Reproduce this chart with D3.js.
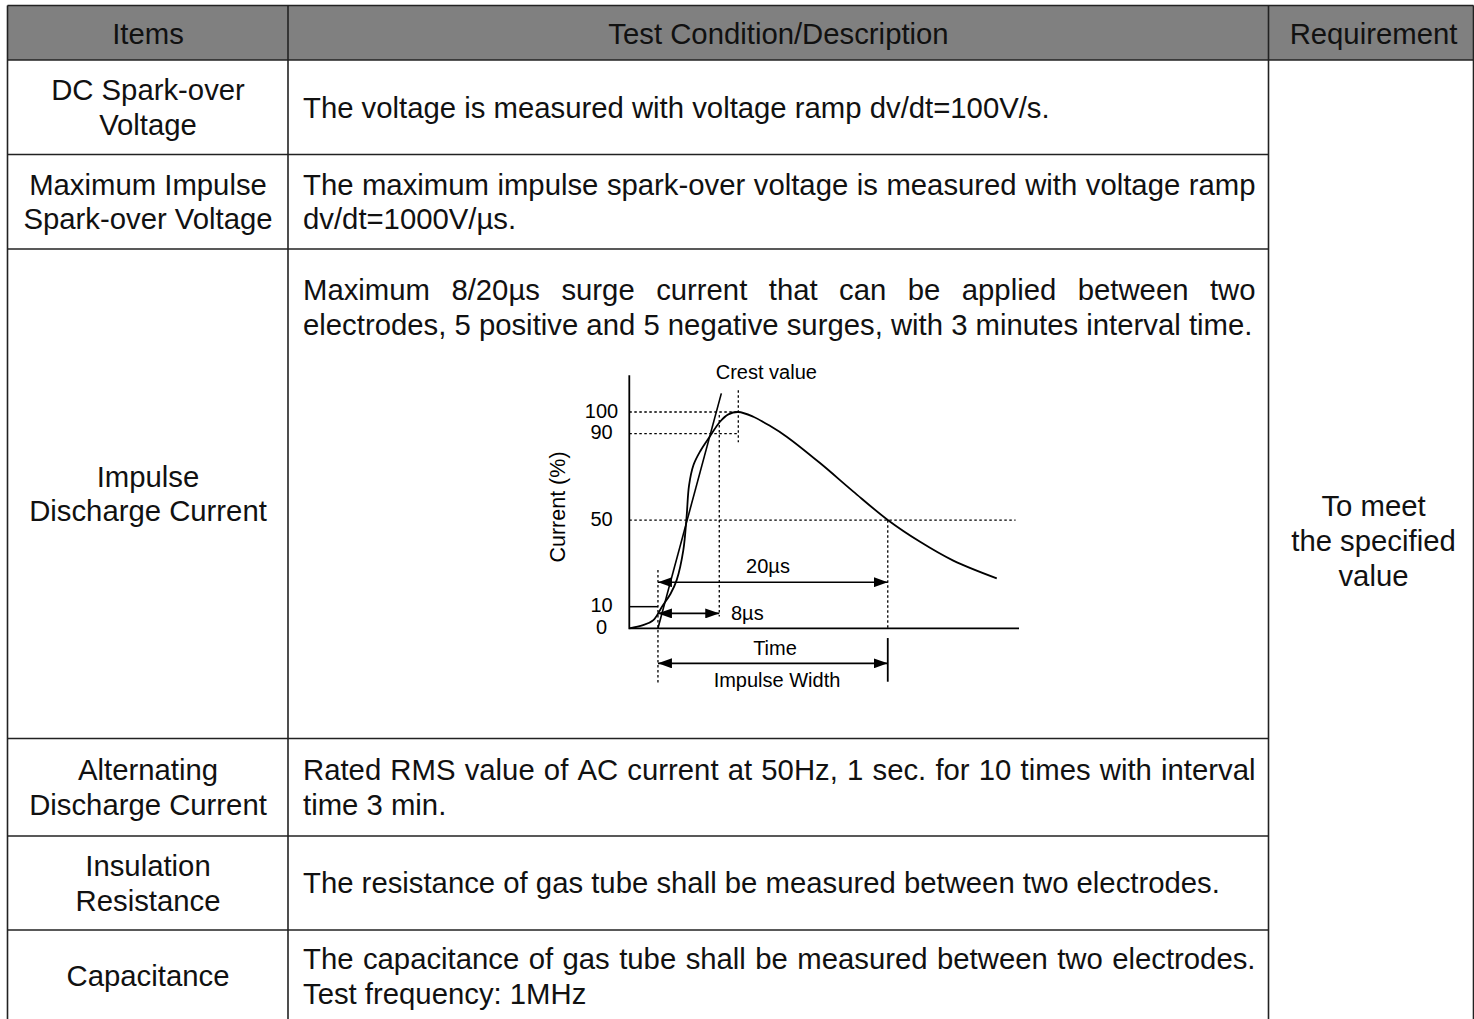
<!DOCTYPE html>
<html>
<head>
<meta charset="utf-8">
<script src="https://cdn.jsdelivr.net/npm/d3@7"></script>
<style>
  body { margin: 0; background: #fff; }
  svg { display: block; font-family: "Liberation Sans", Arial, sans-serif; }
</style>
</head>
<body>
<div id="chart"></div>
<script>
// ----- table content -----
const headers = ["Items", "Test Condition/Description", "Requirement"];

const items = [
  ["DC Spark-over", "Voltage"],
  ["Maximum Impulse", "Spark-over Voltage"],
  ["Impulse", "Discharge Current"],
  ["Alternating", "Discharge Current"],
  ["Insulation", "Resistance"],
  ["Capacitance"]
];

// each line: [text, justified?]
const descriptions = [
  [["The voltage is measured with voltage ramp dv/dt=100V/s.", false]],
  [["The maximum impulse spark-over voltage is measured with voltage ramp", true],
   ["dv/dt=1000V/µs.", false]],
  [["Maximum 8/20µs surge current that can be applied between two", true],
   ["electrodes, 5 positive and 5 negative surges, with 3 minutes interval time.", false]],
  [["Rated RMS value of AC current at 50Hz, 1 sec. for 10 times with interval", true],
   ["time 3 min.", false]],
  [["The resistance of gas tube shall be measured between two electrodes.", false]],
  [["The capacitance of gas tube shall be measured between two electrodes.", true],
   ["Test frequency: 1MHz", false]]
];

const requirement = ["To meet", "the specified", "value"];

// ----- 8/20 waveform (time in diagram units, current in %) -----
const waveTime    = [0, 1.2, 2.1, 2.85, 3.6, 4.14, 4.71, 5.0, 5.21, 5.6, 6.2, 7.04, 7.91, 8.64, 9.51, 10.82, 12.3, 13.73, 16.64, 19.55, 22.55, 25.37, 28.27, 32.06];
const waveCurrent = [0, 1.5, 3.8, 10, 16, 22.4, 36, 51.6, 66, 75.5, 82, 88.8, 95.5, 98.9, 100, 97.8, 93.5, 88.6, 76.4, 63.2, 50.1, 40.0, 31.3, 23.1];

// straight front line through the 10% and 90% points
const frontTime = [2.5, 8.03];
const frontCurrent = [0, 108.6];

const levelTicks = [100, 90, 50, 10, 0];

// key times: virtual origin, 90% point, crest, 50% on tail
const tOrigin = 2.5, t90 = 7.85, tCrest = 9.51, tHalf = 22.55;

// ----- layout -----
const width = 1474, height = 1019;
const colX = [7.5, 288, 1268.5, 1473.5];
const rowY = [5.5, 60, 154.5, 249, 738.5, 836, 930, 1022];
const lineH = 34.5;
const fs = 29.3;

const svg = d3.select("#chart").append("svg")
  .attr("width", width)
  .attr("height", height);

// header background
svg.append("rect")
  .attr("x", colX[0]).attr("y", rowY[0])
  .attr("width", colX[3] - colX[0]).attr("height", rowY[1] - rowY[0])
  .attr("fill", "#808080");

const grid = svg.append("g").attr("stroke", "#222").attr("stroke-width", 1.6);

// horizontal rules
rowY.forEach((y, i) => {
  const full = i <= 1;
  grid.append("line")
    .attr("x1", colX[0]).attr("x2", full ? colX[3] : colX[2])
    .attr("y1", y).attr("y2", y);
});
// vertical rules
colX.forEach(x => {
  grid.append("line").attr("x1", x).attr("x2", x).attr("y1", rowY[0]).attr("y2", rowY[7]);
});

const txt = svg.append("g").attr("font-size", fs).attr("fill", "#111");
const colCenter = [148, 778.5, 1373.5];

// header text
headers.forEach((h, i) => {
  txt.append("text")
    .attr("x", colCenter[i])
    .attr("y", (rowY[0] + rowY[1]) / 2 + 1)
    .attr("dy", "0.35em")
    .attr("text-anchor", "middle")
    .text(h);
});

// item column
items.forEach((lines, r) => {
  const cy = (rowY[r + 1] + rowY[r + 2]) / 2;
  lines.forEach((l, k) => {
    txt.append("text")
      .attr("x", colCenter[0])
      .attr("y", cy + (k - (lines.length - 1) / 2) * lineH)
      .attr("dy", "0.35em")
      .attr("text-anchor", "middle")
      .text(l);
  });
});

// description column (justified where the original is)
const descLeft = colX[1] + 15, descRight = colX[2] - 13;

function drawLine(str, y, justify) {
  if (!justify) {
    txt.append("text").attr("x", descLeft).attr("y", y).attr("dy", "0.35em").text(str);
    return;
  }
  const words = str.split(" ");
  const nodes = words.map(w => txt.append("text").attr("y", y).attr("dy", "0.35em").text(w));
  const ws = nodes.map(n => n.node().getComputedTextLength());
  const gap = (descRight - descLeft - d3.sum(ws)) / (words.length - 1);
  let cx = descLeft;
  nodes.forEach((n, i) => { n.attr("x", cx); cx += ws[i] + gap; });
}

descriptions.forEach((lines, r) => {
  let y0;
  if (r === 2) {
    y0 = 290; // text sits at the top of the diagram cell
  } else {
    const cy = (rowY[r + 1] + rowY[r + 2]) / 2;
    y0 = cy - (lines.length - 1) / 2 * lineH;
  }
  lines.forEach((l, k) => drawLine(l[0], y0 + k * lineH, l[1]));
});

// requirement (merged cell)
const reqCy = (rowY[1] + rowY[7]) / 2;
requirement.forEach((l, k) => {
  txt.append("text")
    .attr("x", colCenter[2])
    .attr("y", reqCy + (k - 1) * 35)
    .attr("dy", "0.35em")
    .attr("text-anchor", "middle")
    .text(l);
});

// ----- waveform diagram -----
const x = d3.scaleLinear().domain([0, 34]).range([629.3, 1019]);
const y = d3.scaleLinear().domain([0, 100]).range([628.3, 412]);

const defs = svg.append("defs");
defs.append("marker")
  .attr("id", "arrow")
  .attr("viewBox", "0 0 14 10")
  .attr("refX", 14).attr("refY", 5)
  .attr("markerWidth", 14).attr("markerHeight", 10)
  .attr("markerUnits", "userSpaceOnUse")
  .attr("orient", "auto-start-reverse")
  .append("path").attr("d", "M0,0L14,5L0,10Z").attr("fill", "#000");

const dia = svg.append("g").attr("fill", "none").attr("stroke", "#000");

// dotted guide lines
const dotted = dia.append("g").attr("stroke-width", 1.3).attr("stroke-dasharray", "2.5,2.5");
const hGuide = (v, t1) => dotted.append("line").attr("x1", x(0)).attr("x2", x(t1)).attr("y1", y(v)).attr("y2", y(v));
const vGuide = (t, v1, v2) => dotted.append("line").attr("x1", x(t)).attr("x2", x(t)).attr("y1", y(v1)).attr("y2", y(v2));
hGuide(100, tCrest);
hGuide(90, tCrest);
hGuide(50, 33.7);
vGuide(tCrest, 110, 86);
vGuide(tOrigin, 27, -25.4);
vGuide(t90, 98.6, 5.4);
vGuide(tHalf, 50, 0);

// axes
dia.append("path")
  .attr("stroke-width", 1.8)
  .attr("d", `M${x(0)},${y(117)}V${y(0)}H${x(34)}`);

// 10% level marker and impulse-width end bar
dia.append("line").attr("stroke-width", 1.5)
  .attr("x1", x(0)).attr("x2", x(tOrigin)).attr("y1", y(10)).attr("y2", y(10));
dia.append("line").attr("stroke-width", 1.8)
  .attr("x1", x(tHalf)).attr("x2", x(tHalf)).attr("y1", y(-4.5)).attr("y2", y(-24.7));

// front line
dia.append("line").attr("stroke-width", 1.6)
  .attr("x1", x(frontTime[0])).attr("y1", y(frontCurrent[0]))
  .attr("x2", x(frontTime[1])).attr("y2", y(frontCurrent[1]));

// waveform
const wave = waveTime.map((t, i) => [t, waveCurrent[i]]);
dia.append("path")
  .attr("stroke-width", 1.8)
  .attr("d", d3.line().x(d => x(d[0])).y(d => y(d[1])).curve(d3.curveCatmullRom)(wave));

// dimension arrows
const arrow = (t0, t1, v) => dia.append("line")
  .attr("stroke-width", 1.6)
  .attr("x1", x(t0)).attr("x2", x(t1)).attr("y1", y(v)).attr("y2", y(v))
  .attr("marker-start", "url(#arrow)").attr("marker-end", "url(#arrow)");
arrow(tOrigin, tHalf, 21.3);
arrow(tOrigin, t90, 6.9);
arrow(tOrigin, tHalf, -16.2);

// diagram labels
const lab = svg.append("g").attr("font-size", 20).attr("fill", "#000");
levelTicks.forEach(v => {
  lab.append("text")
    .attr("x", 601.5).attr("y", y(v) - 1.5)
    .attr("dy", "0.35em").attr("text-anchor", "middle")
    .text(v);
});
lab.append("text").attr("x", x(tCrest) + 28).attr("y", y(110) - 18)
  .attr("dy", "0.35em").attr("text-anchor", "middle").text("Crest value");
lab.append("text").attr("x", 768).attr("y", y(21.3) - 16)
  .attr("dy", "0.35em").attr("text-anchor", "middle").text("20µs");
lab.append("text").attr("x", 731).attr("y", y(6.9))
  .attr("dy", "0.35em").text("8µs");
lab.append("text").attr("x", 775).attr("y", 648)
  .attr("dy", "0.35em").attr("text-anchor", "middle").text("Time");
lab.append("text").attr("x", 777).attr("y", 680)
  .attr("dy", "0.35em").attr("text-anchor", "middle").text("Impulse Width");
lab.append("text")
  .attr("font-size", 21.5)
  .attr("transform", `translate(557,507) rotate(-90)`)
  .attr("dy", "0.35em").attr("text-anchor", "middle")
  .text("Current (%)");
</script>
</body>
</html>
